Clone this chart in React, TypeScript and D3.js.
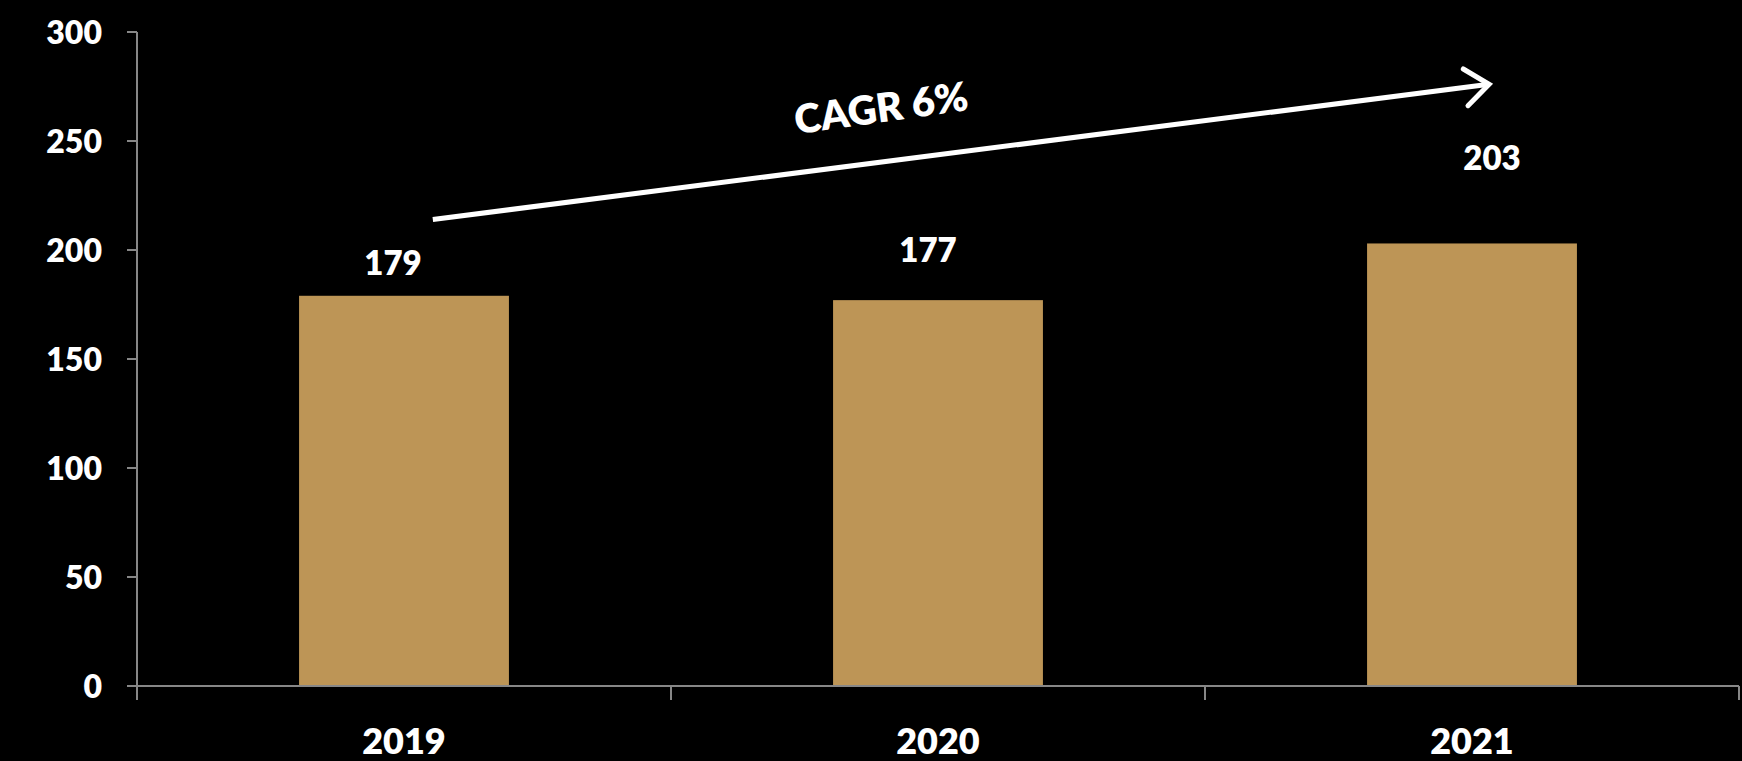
import React from "react";
import * as d3 from "d3";

const categories = ["2019", "2020", "2021"];
const values = [179, 177, 203];
const yTicks = [0, 50, 100, 150, 200, 250, 300];
const labelOffsets = [[-11, -21], [-10, -38], [20, -73]];
const cagrLabel = "CAGR 6%";

const W = 1742, H = 761;
const margin = { left: 137, right: 3, top: 32, bottom: 75 };

export default function App() {
  const x = d3.scaleBand<string>().domain(categories).range([margin.left, W - margin.right]).padding(0);
  const y = d3.scaleLinear().domain([0, 300]).range([H - margin.bottom, margin.top]);
  const bw = x.bandwidth() * 0.393;
  const font = "Lato, 'Open Sans', sans-serif";
  const axisColor = "#878787";

  // arrow annotation, expressed in data space
  const ax0 = (x("2019") as number) + x.bandwidth() * 0.554;
  const ay0 = y(214);
  const ax1 = (x("2021") as number) + x.bandwidth() * 0.532;
  const ay1 = y(276);
  const ang = Math.atan2(ay1 - ay0, ax1 - ax0);
  const headLen = 30, headAng = (38 * Math.PI) / 180;
  const h1 = [ax1 - headLen * Math.cos(ang - headAng), ay1 - headLen * Math.sin(ang - headAng)];
  const h2 = [ax1 - headLen * Math.cos(ang + headAng), ay1 - headLen * Math.sin(ang + headAng)];
  const boundaries = [...categories.map((c) => x(c) as number), W - margin.right];

  return (
    <div style={{ position: "fixed", left: 0, top: 0, width: W, height: H, background: "#000" }}>
      <svg width={W} height={H} style={{ display: "block", background: "#000" }}>
        {/* bars */}
        {categories.map((c, i) => (
          <rect key={c} x={(x(c) as number) + (x.bandwidth() - bw) / 2} y={y(values[i])} width={bw} height={y(0) - y(values[i])} fill="#BD9556" />
        ))}
        {/* y axis */}
        <line x1={margin.left} x2={margin.left} y1={y(300)} y2={y(0)} stroke={axisColor} strokeWidth={2} />
        {yTicks.map((t) => (
          <g key={t}>
            <line x1={margin.left - 10} x2={margin.left} y1={y(t)} y2={y(t)} stroke={axisColor} strokeWidth={2} />
            <text x={102} y={y(t)} dy="0.36em" textAnchor="end" fill="#fff" fontFamily={font} fontWeight={800} fontSize={32}>{t}</text>
          </g>
        ))}
        {/* x axis */}
        <line x1={margin.left} x2={W - margin.right} y1={y(0)} y2={y(0)} stroke={axisColor} strokeWidth={2} />
        {boundaries.map((b, i) => (
          <line key={i} x1={b} x2={b} y1={y(0)} y2={y(0) + 14} stroke={axisColor} strokeWidth={2} />
        ))}
        {categories.map((c) => (
          <text key={c} x={(x(c) as number) + x.bandwidth() / 2} y={754} textAnchor="middle" fill="#fff" fontFamily={font} fontWeight={800} fontSize={36}>{c}</text>
        ))}
        {/* value labels */}
        {categories.map((c, i) => (
          <text key={c} x={(x(c) as number) + x.bandwidth() / 2 + labelOffsets[i][0]} y={y(values[i]) + labelOffsets[i][1]} textAnchor="middle" fill="#fff" fontFamily={font} fontWeight={800} fontSize={33}>{values[i]}</text>
        ))}
        {/* CAGR arrow */}
        <line x1={ax0} y1={ay0} x2={ax1} y2={ay1} stroke="#fff" strokeWidth={5} />
        <polyline points={`${h1[0]},${h1[1]} ${ax1},${ay1} ${h2[0]},${h2[1]}`} fill="none" stroke="#fff" strokeWidth={5} strokeLinecap="round" strokeLinejoin="miter" />
        <text transform={`translate(883,122) rotate(-8)`} textAnchor="middle" fill="#fff" fontFamily={font} fontWeight={800} fontSize={40}>{cagrLabel}</text>
      </svg>
    </div>
  );
}
